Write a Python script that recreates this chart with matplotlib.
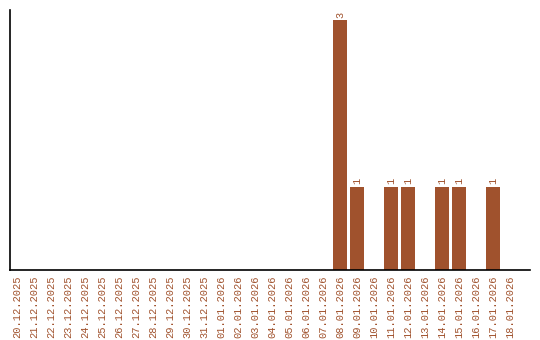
import matplotlib
matplotlib.use("Agg")
import matplotlib.pyplot as plt
import pandas as pd

dates = pd.date_range("2025-12-20", "2026-01-18").strftime("%d.%m.%Y").tolist()
counts_by_date = {"08.01.2026": 3, "09.01.2026": 1, "11.01.2026": 1, "12.01.2026": 1,
                  "14.01.2026": 1, "15.01.2026": 1, "17.01.2026": 1}
values = [counts_by_date.get(d, 0) for d in dates]

color = "#A0522D"
fig = plt.figure(figsize=(5.4, 3.4), dpi=100)
ax = fig.add_axes([10/540, 70/340, 520/540, 260/340])
x = list(range(len(dates)))
ax.bar(x, values, width=0.82, color=color)
for xi, v in zip(x, values):
    if v > 0:
        ax.text(xi, v + 0.03, str(v), rotation=90, ha="center", va="bottom",
                color=color, fontsize=7.5, family="Liberation Mono")
ax.set_xlim(-0.42, 30.15)
ax.set_ylim(0, 3.12)
ax.set_xticks(x)
ax.set_xticklabels(dates, rotation=90, color=color, fontsize=7.5, family="Liberation Mono")
ax.set_yticks([])
ax.tick_params(axis="x", length=0, pad=4)
for s in ["top", "right"]:
    ax.spines[s].set_visible(False)
ax.spines["left"].set_linewidth(1.2)
ax.spines["bottom"].set_linewidth(1.2)
fig.savefig("out.png", dpi=100)
